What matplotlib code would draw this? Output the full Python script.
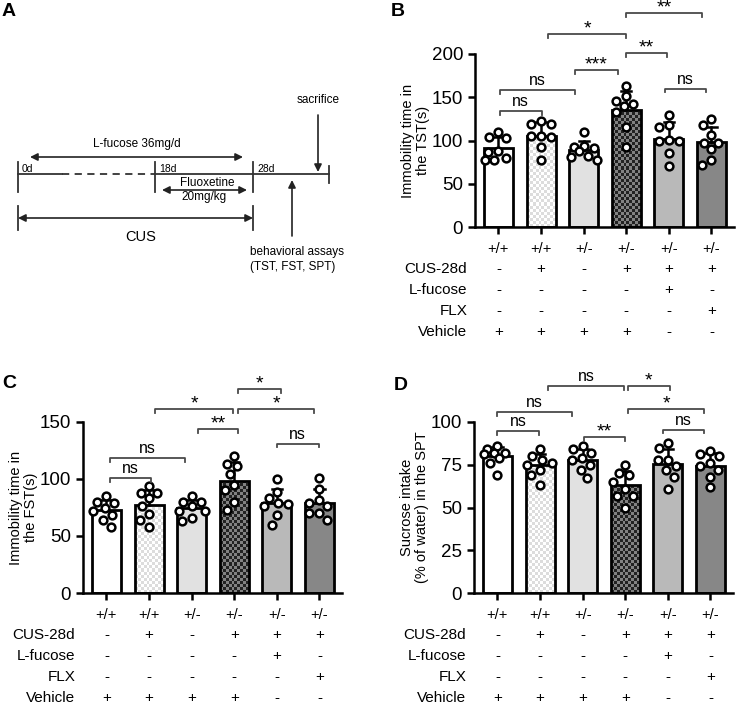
import numpy as np
import matplotlib
matplotlib.use("Agg")
import matplotlib.pyplot as plt
from matplotlib.patches import FancyArrowPatch

plt.rcParams['font.family'] = ['Liberation Sans', 'DejaVu Sans']

# ---- data -------------------------------------------------------------
genotype = ['+/+', '+/+', '+/-', '+/-', '+/-', '+/-']
cus_28d = ['-', '+', '-', '+', '+', '+']
l_fucose = ['-', '-', '-', '-', '+', '-']
flx = ['-', '-', '-', '-', '-', '+']
vehicle = ['+', '+', '+', '+', '-', '-']
row_names = ['CUS-28d', 'L-fucose', 'FLX', 'Vehicle']

tst_points = [
    [110, 104, 103, 88, 87, 80, 78, 78],
    [123, 119, 119, 105, 105, 104, 93, 77],
    [110, 94, 93, 91, 88, 82, 81, 77],
    [163, 151, 146, 142, 140, 133, 116, 93],
    [130, 118, 116, 101, 99, 99, 85, 70],
    [125, 118, 106, 97, 97, 90, 78, 72],
]
fst_points = [
    [85, 80, 79, 75, 72, 68, 64, 58],
    [94, 88, 88, 83, 76, 69, 64, 58],
    [85, 80, 80, 76, 72, 72, 66, 63],
    [120, 113, 111, 104, 95, 90, 80, 73],
    [100, 89, 83, 79, 78, 76, 68, 60],
    [101, 91, 82, 79, 76, 70, 70, 64],
]
spt_points = [
    [86, 84, 82, 82, 81, 79, 76, 69],
    [84, 80, 78, 76, 75, 72, 69, 63],
    [86, 84, 82, 79, 78, 75, 72, 67],
    [75, 70, 69, 65, 61, 57, 57, 50],
    [88, 85, 78, 78, 74, 72, 68, 61],
    [83, 81, 80, 76, 74, 72, 68, 62],
]

# significance brackets: (from group, to group, height, label)
tst_sig = [(0.03, 1.02, 134, 'ns'), (0.03, 1.8, 158, 'ns'), (1.8, 2.8, 181, '***'),
           (1.17, 3.0, 223, '*'), (3.0, 3.95, 201, '**'), (3.0, 4.78, 247, '**'),
           (3.9, 4.88, 160, 'ns')]
fst_sig = [(0.08, 1.05, 101, 'ns'), (0.08, 1.85, 118, 'ns'), (2.15, 3.1, 144, '**'),
           (1.15, 2.98, 161, '*'), (3.1, 4.1, 179, '*'), (3.1, 4.88, 161, '*'),
           (4.0, 4.98, 131, 'ns')]
spt_sig = [(0.0, 0.98, 94.5, 'ns'), (0.0, 1.74, 106, 'ns'), (2.03, 3.0, 91, '**'),
           (1.18, 2.98, 121, 'ns'), (3.06, 4.04, 121, '*'), (3.07, 4.85, 107.5, '*'),
           (3.88, 4.85, 95.5, 'ns')]

# ---- styles -----------------------------------------------------------
bar_fill = ['white', 'none', '#e1e1e1', 'none', '#b9b9b9', '#878787']
checker_colors = {1: ('white', '#dcdcdc'), 3: ('#222222', '#828282')}
W_PX, H_PX = 738, 704


def checker(ax, bar, c1, c2, cell_px=3.0):
    x0, y0 = bar.get_x(), bar.get_y()
    x1, y1 = x0 + bar.get_width(), y0 + bar.get_height()
    p0 = ax.transData.transform((x0, y0))
    p1 = ax.transData.transform((x1, y1))
    nx = max(1, int(round(abs(p1[0] - p0[0]) / cell_px)))
    ny = max(1, int(round(abs(p1[1] - p0[1]) / cell_px)))
    grid = (np.add.outer(np.arange(ny), np.arange(nx)) % 2).astype(float)
    cmap = matplotlib.colors.ListedColormap([c1, c2])
    im = ax.imshow(grid, extent=(x0, x1, y0, y1), cmap=cmap, aspect='auto',
                   interpolation='nearest', origin='lower', zorder=1.5)
    im.set_clip_path(bar)


def swarm(ax, xc, vals, diam_px=10.0):
    # simple deterministic beeswarm in pixel space
    placed = []
    xs = np.zeros(len(vals))
    cands = sorted(range(-13, 14), key=abs)
    for i in np.argsort(vals)[::-1]:
        px0, py = ax.transData.transform((xc, vals[i]))
        best, best_d = None, -1
        for k in cands:
            px = px0 + k
            d = min([np.hypot(px - qx, py - qy) for qx, qy in placed] or [99])
            if d >= diam_px:
                best = px
                break
            if d > best_d:
                best, best_d = px, d
        placed.append((best, py))
        xs[i] = ax.transData.inverted().transform((best, py))[0]
    return xs


def bar_panel(fig, left_px, bottom_px, top_px, points, ymax, yticks, ylabel, sig, letter, letter_xy):
    xlim = (-0.55, 5.53)
    width_px = (xlim[1] - xlim[0]) * 42.6
    ax = fig.add_axes([left_px / W_PX, 1 - bottom_px / H_PX, width_px / W_PX,
                       (bottom_px - top_px) / H_PX])
    ax.set_xlim(*xlim)
    ax.set_ylim(0, ymax)
    x = np.arange(len(points))
    means = [np.mean(p) for p in points]
    sds = [np.std(p, ddof=1) for p in points]
    bars = ax.bar(x, means, width=0.68, color=bar_fill,
                  edgecolor='black', linewidth=2, zorder=2)
    for i, b in enumerate(bars):
        if i in checker_colors:
            checker(ax, b, *checker_colors[i])
    ax.set_xlim(*xlim)
    ax.set_ylim(0, ymax)
    for i in x:
        ax.plot([i, i], [means[i], means[i] + sds[i]], color='black', lw=1.8, zorder=3)
        ax.plot([i - 0.12, i + 0.12], [means[i] + sds[i]] * 2, color='black', lw=1.8, zorder=3)
        xs = swarm(ax, i, np.array(points[i], float))
        ax.plot(xs, points[i], 'o', ms=5.6, mfc='white', mec='black', mew=1.8,
                zorder=4, clip_on=False)
    for s in ['top', 'right']:
        ax.spines[s].set_visible(False)
    for s in ['left', 'bottom']:
        ax.spines[s].set_linewidth(1.8)
    ax.set_xticks(x)
    ax.set_xticklabels([])
    ax.set_yticks(yticks)
    ax.tick_params(axis='both', width=1.8, length=5, labelsize=13.5, direction='out')
    ax.set_ylabel(ylabel, fontsize=10.5, linespacing=1.05)
    ax.yaxis.set_label_coords(-0.175, 0.5)

    cap = ymax * 0.022
    for a, b, h, lab in sig:
        ax.plot([a, a, b, b], [h - cap, h, h, h - cap], color='#4a4a4a', lw=1.3,
                clip_on=False, zorder=5)
        if lab == 'ns':
            ax.annotate(lab, ((a + b) / 2, h), xytext=(0, 1.5), textcoords='offset points',
                        ha='center', va='bottom', fontsize=11.5, annotation_clip=False)
        else:
            ax.annotate(lab, ((a + b) / 2, h), xytext=(0, -2.5), textcoords='offset points',
                        ha='center', va='bottom', fontsize=14, annotation_clip=False)

    # treatment table under the axis
    h_ax = bottom_px - top_px
    tr = ax.get_xaxis_transform()
    for i in x:
        ax.text(i, -22 / h_ax, genotype[i], transform=tr, ha='center', va='center', fontsize=10.5)
    for r, (name, col) in enumerate(zip(row_names, [cus_28d, l_fucose, flx, vehicle])):
        y = -(42 + 21 * r) / h_ax
        ax.text(-0.03, y, name, transform=ax.transAxes, ha='right', va='center', fontsize=11)
        for i in x:
            ax.text(i, y, col[i], transform=tr, ha='center', va='center', fontsize=11)
    fig.text(letter_xy[0] / W_PX, 1 - letter_xy[1] / H_PX, letter, fontsize=14,
             fontweight='bold', ha='left', va='center')
    return ax


fig = plt.figure(figsize=(7.38, 7.04), dpi=100)

# ---- panel A : timeline schematic ------------------------------------
axa = fig.add_axes([0, 0, 1, 1])
axa.set_xlim(0, W_PX)
axa.set_ylim(H_PX, 0)
axa.axis('off')


def arrow(x0, y0, x1, y1, both=True):
    style = '<|-|>' if both else '-|>'
    axa.add_patch(FancyArrowPatch((x0, y0), (x1, y1), arrowstyle=style, mutation_scale=11,
                                  color='#222222', lw=1.2, shrinkA=0, shrinkB=0))


line_kw = dict(color='#333333', lw=1.3)
axa.plot([18, 62], [174, 174], **line_kw)
axa.plot([62, 155], [174, 174], ls=(0, (4, 3)), **line_kw)
axa.plot([155, 329], [174, 174], **line_kw)
for xv in [18, 155, 253]:
    axa.plot([xv, xv], [162, 192], **line_kw)
axa.plot([329, 329], [166, 183], **line_kw)
axa.text(22, 169, '0d', fontsize=7.5, va='center')
axa.text(159, 169, '18d', fontsize=7.5, va='center')
axa.text(257, 169, '28d', fontsize=7.5, va='center')
arrow(30, 157, 243, 157)
axa.text(137, 144, 'L-fucose 36mg/d', fontsize=8.5, ha='center', va='center')
arrow(162, 190, 247, 190)
axa.text(207, 183, 'Fluoxetine', fontsize=8.5, ha='center', va='center')
axa.text(204, 197, '20mg/kg', fontsize=8.5, ha='center', va='center')
for xv in [18, 253]:
    axa.plot([xv, xv], [206, 230], **line_kw)
arrow(18, 218, 253, 218)
axa.text(141, 237, 'CUS', fontsize=10.5, ha='center', va='center')
axa.text(318, 100, 'sacrifice', fontsize=8.5, ha='center', va='center')
arrow(318, 115, 318, 172, both=False)
arrow(292, 236, 292, 180, both=False)
axa.text(250, 252, 'behavioral assays', fontsize=8.5, ha='left', va='center')
axa.text(250, 267, '(TST, FST, SPT)', fontsize=8.5, ha='left', va='center')
axa.text(2, 12, 'A', fontsize=14, fontweight='bold', ha='left', va='center')

# ---- panels B, C, D ---------------------------------------------------
bar_panel(fig, 475, 227, 54, tst_points, 200, [0, 50, 100, 150, 200],
          'Immobility time in\nthe TST(s)', tst_sig, 'B', (391, 12))
bar_panel(fig, 83, 593, 422, fst_points, 150, [0, 50, 100, 150],
          'Immobility time in\nthe FST(s)', fst_sig, 'C', (2, 384))
bar_panel(fig, 474, 593, 422, spt_points, 100, [0, 25, 50, 75, 100],
          'Sucrose intake\n(% of water) in the SPT', spt_sig, 'D', (394, 385))

fig.savefig('out.png', dpi=100)
